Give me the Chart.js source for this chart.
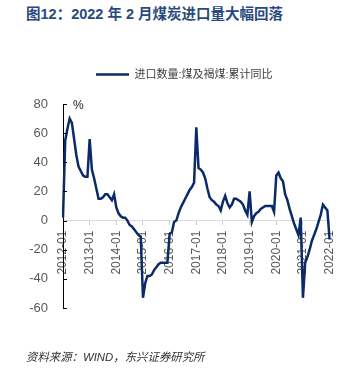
<!DOCTYPE html>
<html>
<head>
<meta charset="utf-8">
<script src="https://cdn.jsdelivr.net/npm/chart.js@4/dist/chart.umd.min.js"></script>
<style>
  html, body { margin: 0; padding: 0; background: #fff; }
  #wrap { position: relative; width: 350px; height: 368px; overflow: hidden; }
  #chart { position: absolute; left: 0; top: 0; }
  .title {
    position: absolute; left: 26px; top: 6px; white-space: nowrap;
    font: bold 14.5px "Liberation Sans", "Noto Sans CJK SC", sans-serif;
    color: #2a4a7f; line-height: 16px;
  }
  .source {
    position: absolute; left: 26px; top: 350px; white-space: nowrap;
    font: italic 11.4px "Liberation Sans", "Noto Sans CJK SC", sans-serif;
    color: #333; line-height: 14px;
  }
</style>
</head>
<body>
<div id="wrap">
  <div class="title">图12：2022 年 2 月煤炭进口量大幅回落</div>
  <canvas id="chart" width="350" height="368"></canvas>
  <div class="source">资料来源：WIND，东兴证券研究所</div>
</div>
<script>
// Monthly categories, 2012-01 .. 2022-01
const START_YEAR = 2012;
const END_YEAR = 2022;
const END_MONTH = 1;
const months = [];
for (let y = START_YEAR; y <= END_YEAR; y++) {
  for (let m = 1; m <= 12; m++) {
    if (y === END_YEAR && m > END_MONTH) break;
    months.push(y + '-' + String(m).padStart(2, '0'));
  }
}

const seriesName = '进口数量:煤及褐煤:累计同比';

// Cumulative YoY change of coal & lignite imports (%), by year
const yoy2012 = [2, 55, 63, 70, 67, 56, 45, 37, 34, 31, 30, 30];
const yoy2013 = [56, 35, 29, 22, 15, 15, 16, 18, 18, 16, 14, 18];
const yoy2014 = [9, 5, 3, 2, 2, 0, -3, -4, -6, -8, -10, -11];
const yoy2015 = [-53, -43, -38, -38, -37, -34, -32, -30, -29, -29, -29, -29];
const yoy2016 = [-9, -8, -1, 0, 5, 9, 12, 15, 18, 21, 23, 26];
const yoy2017 = [64, 36, 35, 33, 29, 22, 16, 14, 13, 11, 10, 7];
const yoy2018 = [13, 17, 12, 9, 11, 15, 15, 14, 13, 11, 7, 4];
const yoy2019 = [20, -1, 3, 5, 6, 8, 9, 10, 10, 10, 10, 6];
const yoy2020 = [31, 33, 29, 27, 18, 14, 8, 3, -2, -6, -10, 2];
const yoy2021 = [-53, -29, -25, -20, -14, -10, -6, -1, 4, 11, 9, 7];
const yoy2022 = [-13];

const values = [].concat(yoy2012, yoy2013, yoy2014, yoy2015, yoy2016,
  yoy2017, yoy2018, yoy2019, yoy2020, yoy2021, yoy2022);

const yTicks = { min: -60, max: 80, step: 20 };
const unitLabel = '%';

const LINE_COLOR = '#0b2a68';
const FONT = '"Liberation Sans", "Noto Sans CJK SC", sans-serif';

// Extra room between legend and plot
const legendGap = {
  id: 'legendGap',
  beforeInit(chart) {
    const origFit = chart.legend.fit;
    chart.legend.fit = function () {
      origFit.call(this);
      this.height += 14;
    };
  }
};

// Inward tick marks on the value axis and the unit label
const axisExtras = {
  id: 'axisExtras',
  afterDraw(chart) {
    const { ctx } = chart;
    const y = chart.scales.y;
    ctx.save();
    ctx.strokeStyle = '#000';
    ctx.lineWidth = 1;
    y.ticks.forEach(t => {
      const py = Math.round(y.getPixelForValue(t.value)) + 0.5;
      ctx.beginPath();
      ctx.moveTo(y.right, py);
      ctx.lineTo(y.right + 4, py);
      ctx.stroke();
    });
    ctx.fillStyle = '#222';
    ctx.font = '12px ' + FONT;
    ctx.textBaseline = 'middle';
    ctx.textAlign = 'left';
    ctx.fillText(unitLabel, y.right + 10, y.top + 2);
    ctx.restore();
  }
};

new Chart(document.getElementById('chart'), {
  type: 'line',
  data: {
    labels: months,
    datasets: [{
      label: seriesName,
      data: values,
      borderColor: LINE_COLOR,
      backgroundColor: LINE_COLOR,
      borderWidth: 2.5,
      pointRadius: 0,
      tension: 0,
      fill: false
    }]
  },
  options: {
    responsive: false,
    animation: false,
    devicePixelRatio: 1,
    layout: { padding: { left: 0, right: 19, top: 36, bottom: 60 } },
    plugins: {
      tooltip: { enabled: false },
      legend: {
        display: true,
        position: 'top',
        align: 'start',
        fullSize: false,
        labels: {
          usePointStyle: true,
          pointStyle: 'line',
          pointStyleWidth: 33,
          padding: 33,
          color: '#404040',
          font: { family: FONT, size: 11 }
        }
      }
    },
    scales: {
      x: {
        type: 'category',
        position: { y: 0 },
        offset: false,
        grid: {
          drawOnChartArea: false,
          drawTicks: true,
          tickLength: 4,
          color: '#d0d0d0'
        },
        border: { color: '#d9d9d9', width: 1 },
        afterBuildTicks(scale) {
          scale.ticks = scale.ticks.filter(t => t.value % 12 === 0);
        },
        ticks: {
          autoSkip: false,
          minRotation: 90,
          maxRotation: 90,
          padding: 6,
          color: '#595959',
          font: { family: FONT, size: 12 }
        }
      },
      y: {
        min: yTicks.min,
        max: yTicks.max,
        afterFit(scale) { scale.width = 63; },
        grid: { display: false, drawTicks: false },
        border: { color: '#000', width: 1 },
        ticks: {
          stepSize: yTicks.step,
          padding: 15,
          color: '#595959',
          font: { family: FONT, size: 13 }
        }
      }
    }
  },
  plugins: [legendGap, axisExtras]
});
</script>
</body>
</html>
